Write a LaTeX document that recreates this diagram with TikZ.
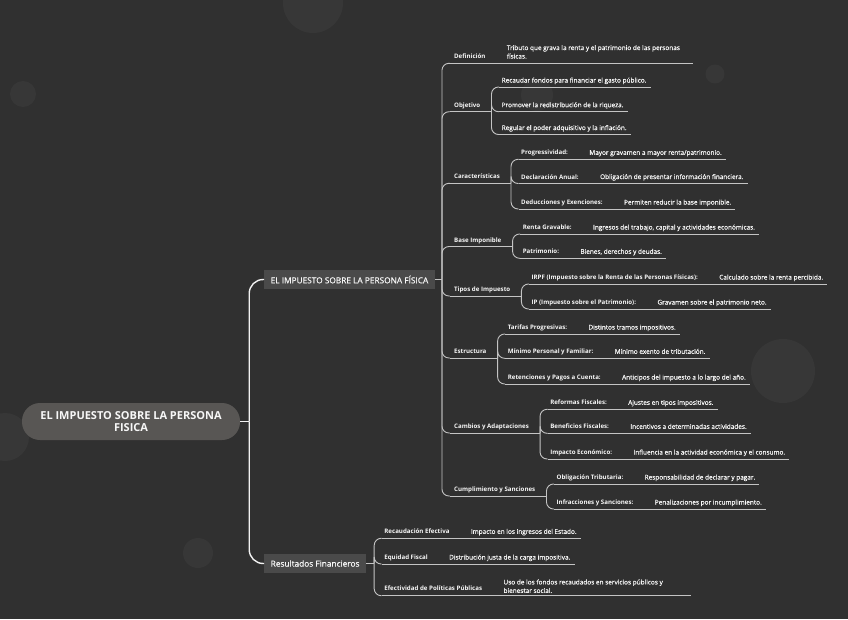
\documentclass[tikz,border=0pt]{standalone}
\usepackage{fontspec}
\setmainfont{Open Sans}
\newfontfamily\valfont{Open Sans}[FakeBold=0.6]
\usetikzlibrary{calc,positioning}
\definecolor{MapPaper}{HTML}{303030}
\definecolor{MapBubble}{HTML}{373737}
\definecolor{MapRoot}{HTML}{585654}
\definecolor{MapBranch}{HTML}{4A4A4A}
\definecolor{MapLink}{HTML}{F2F2F2}
\definecolor{MapRule}{HTML}{C4C4C4}
\definecolor{MapText}{HTML}{F7F7F7}
\tikzset{
  every node/.style={text=MapText},
  root/.style={fill=MapRoot, rounded corners=18pt, minimum width=218pt, minimum height=37pt, align=center, font=\bfseries\fontsize{11}{12.5}\selectfont},
  branch/.style={fill=MapBranch, minimum height=19pt, inner xsep=6.5pt, anchor=west, font=\valfont\fontsize{8.3}{9}\selectfont},
  topic/.style={inner sep=0pt, anchor=base west, font=\bfseries\fontsize{6.15}{7}\selectfont},
  keytext/.style={topic},
  valtext/.style={inner sep=0pt, align=left, font=\valfont\fontsize{6.45}{8.5}\selectfont},
  rule/.style={draw=MapRule, line width=0.9pt},
  link/.style={draw=MapRule, line width=0.9pt, rounded corners=7pt},
  trunk/.style={draw=MapLink, line width=1.4pt, rounded corners=14pt},
}
\begin{document}
\begin{tikzpicture}[x=1pt, y=-1pt]
  % Background and bubbles
  \fill[MapPaper] (0,0) rectangle (848,619);
  \useasboundingbox (0,0) rectangle (848,619);
  \foreach \cx/\cy/\r in {313/3/30, 23/94/13, 537/95/16, 715/74/9.5, 783/371/32, 5/437/24, 198/553/15}
    \fill[MapBubble] (\cx,\cy) circle [radius=\r];

  % Root and main branches
  \node[root] (root) at (131,421.5) {EL IMPUESTO SOBRE LA PERSONA\\FISICA};
  \node[branch] (b1) at (264,279.5) {EL IMPUESTO SOBRE LA PERSONA FÍSICA};
  \node[branch] (b2) at (264,563.5) {Resultados Financieros};
  \coordinate (root-t) at ($(root.east)+(9,0)$);
  \draw[trunk] (root.east) -- (root-t);
  \draw[trunk] (root-t) |- (b1.west);
  \draw[trunk] (root-t) |- (b2.west);
  \coordinate (b1-t) at ($(b1.east)+(7,0)$);
  \coordinate (b2-t) at ($(b2.east)+(8,0)$);
  \draw[link] (b1.east) -- (b1-t);
  \draw[link] (b2.east) -- (b2-t);

  % Topics of the first branch
  \foreach \nm/\uy/\txt in {def/63.3/Definición, obj/111.7/Objetivo, car/183.3/Características,
      bas/246.5/Base Imponible, tip/296/Tipos de Impuesto, est/358/Estructura,
      cam/433/Cambios y Adaptaciones, cum/496/Cumplimiento y Sanciones} {
    \coordinate (\nm-s) at ($(b1-t |- 0,\uy)+(8,0)$);
    \node[topic] (\nm) at ($(\nm-s)+(4,-4.5)$) {\txt};
    \coordinate (\nm-t) at ($(\nm.base east)+(11,4.5)$);
    \draw[rule] (\nm-s) -- (\nm-t);
    \draw[link] (b1-t) |- (\nm-s);
  }
  \node[valtext, anchor=south west] (def-v) at ($(def.base east)+(21,0)$)
    {Tributo que grava la renta y el patrimonio de las personas\\físicas.};
  \draw[rule] (def-s) -- ($(def-v.east |- def-s)+(13,0)$);

  % Objetivo
  \foreach \id/\uy/\valtxt in {1/87/{Recaudar fondos para financiar el gasto público.},
      2/111.7/{Promover la redistribución de la riqueza.},
      3/134.5/{Regular el poder adquisitivo y la inflación.}} {
    \coordinate (obj-s\id) at ($(obj-t |- 0,\uy)+(7.5,0)$);
    \node[valtext, anchor=base west] (obj-v\id) at ($(obj-s\id)+(2.5,-4.5)$) {\valtxt};
    \draw[rule] (obj-s\id) -- ($(obj-v\id.base east |- obj-s\id)+(4,0)$);
    \draw[link] (obj-t) |- (obj-s\id);
  }

  % Details: key and value on one rule
  \foreach \grp/\id/\uy/\keytxt/\valtxt in {
      car/1/159.3/{Progressividad:}/{Mayor gravamen a mayor renta/patrimonio.},
      car/2/183.5/{Declaración Anual:}/{Obligación de presentar información financiera.},
      car/3/209/{Deducciones y Exenciones:}/{Permiten reducir la base imponible.},
      bas/1/234/{Renta Gravable:}/{Ingresos del trabajo, capital y actividades económicas.},
      bas/2/258.3/{Patrimonio:}/{Bienes, derechos y deudas.},
      tip/1/284/{IRPF (Impuesto sobre la Renta de las Personas Físicas):}/{Calculado sobre la renta percibida.},
      tip/2/309/{IP (Impuesto sobre el Patrimonio):}/{Gravamen sobre el patrimonio neto.},
      est/1/334/{Tarifas Progresivas:}/{Distintos tramos impositivos.},
      est/2/358.3/{Mínimo Personal y Familiar:}/{Mínimo exento de tributación.},
      est/3/384/{Retenciones y Pagos a Cuenta:}/{Anticipos del impuesto a lo largo del año.},
      cam/1/409.3/{Reformas Fiscales:}/{Ajustes en tipos impositivos.},
      cam/2/433.3/{Beneficios Fiscales:}/{Incentivos a determinadas actividades.},
      cam/3/459/{Impacto Económico:}/{Influencia en la actividad económica y el consumo.},
      cum/1/484/{Obligación Tributaria:}/{Responsabilidad de declarar y pagar.},
      cum/2/509/{Infracciones y Sanciones:}/{Penalizaciones por incumplimiento.},
      b2/1/538.3/{Recaudación Efectiva}/{Impacto en los ingresos del Estado.},
      b2/2/564/{Equidad Fiscal}/{Distribución justa de la carga impositiva.}} {
    \coordinate (\grp-s\id) at ($(\grp-t |- 0,\uy)+(7.5,0)$);
    \node[keytext] (\grp-k\id) at ($(\grp-s\id)+(2.5,-4.5)$) {\keytxt};
    \node[valtext, base right=21pt of \grp-k\id] (\grp-v\id) {\valtxt};
    \draw[rule] (\grp-s\id) -- ($(\grp-v\id.base east |- \grp-s\id)+(4,0)$);
    \draw[link] (\grp-t) |- (\grp-s\id);
  }
  \coordinate (b2-s3) at ($(b2-t |- 0,595.7)+(7.5,0)$);
  \node[keytext] (b2-k3) at ($(b2-s3)+(2.5,-5)$) {Efectividad de Políticas Públicas};
  \node[valtext, anchor=south west] (b2-v3) at ($(b2-k3.base east)+(21,2.5)$)
    {Uso de los fondos recaudados en servicios públicos y\\bienestar social.};
  \draw[rule] (b2-s3) -- ($(b2-v3.east |- b2-s3)+(28,0)$);
  \draw[link] (b2-t) |- (b2-s3);
\end{tikzpicture}
\end{document}
